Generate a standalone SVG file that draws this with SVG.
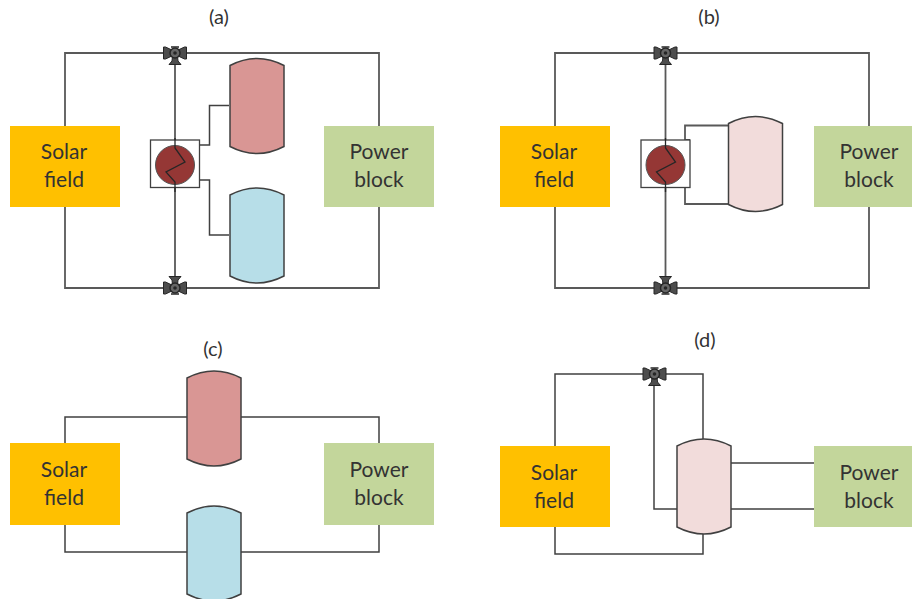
<svg xmlns="http://www.w3.org/2000/svg" width="912" height="599" viewBox="0 0 912 599">
<defs>
<g id="valve">
<path d="M-11.500 -6 L-9.500 -6 L-1 -2 L-1 2 L-9.500 6 L-11.500 6 Z M11.500 -6 L9.500 -6 L1 -2 L1 2 L9.500 6 L11.500 6 Z" fill="#4d4d4d" stroke="#262626" stroke-width="1"/>
<path d="M-2.500 3 L-3 8 L-6 11.500 L6 11.500 L3 8 L2.500 3 Z" fill="#4d4d4d" stroke="#262626" stroke-width="1"/>
<circle cx="0" cy="0" r="5" fill="#666" stroke="#262626" stroke-width="1.500"/>
<circle cx="0" cy="0" r="1.800" fill="#262626"/>
<path d="M-4 -6 H4" stroke="#262626" stroke-width="1.500" fill="none"/>
</g>
<g id="hx">
<rect x="-24.500" y="-25" width="49" height="47.500" fill="#fff" stroke="#404040" stroke-width="1.300"/>
<circle cx="0" cy="0" r="19.500" fill="#953735" stroke="#555" stroke-width="1"/>
<path d="M0 -27 V-17 L10 -3 L-9 7 L0 17 V27" fill="none" stroke="#262626" stroke-width="1.300"/>
</g>
<path id="tank" d="M0 7 Q27 -7 54 7 V88 Q27 102 0 88 Z" stroke="#404040" stroke-width="1.500"/>
</defs>
<style>
.ln{fill:none;stroke:#404040;stroke-width:1.500}
.main{fill:none;stroke:#595959;stroke-width:1.800}
.lbl{font-family:"Lato","Liberation Sans",sans-serif;font-size:21px;fill:#333;text-anchor:middle}
.cap{font-family:"Lato","Liberation Sans",sans-serif;font-size:20px;fill:#333;text-anchor:middle}
.sf{fill:#FFC000}.pb{fill:#C3D69B}
.red{fill:#D99694}.blue{fill:#B7DEE8}.pink{fill:#F2DCDB}
</style>

<g id="connectors">
<path class="main" d="M65 126 V53 H379 V126 M65 207 V288 H379 V207 M175 53 V288"/>
<path class="ln" d="M199 145 H209.500 V105.500 H229 M199 180 H209.500 V235 H229"/>
<path class="main" d="M555 126 V53 H869 V126 M555 207 V288 H869 V207 M665.500 53 V288"/>
<path class="main" d="M690 140 H685 V125.500 H728 M690 187 H685 V204 H728"/>
<path class="ln" d="M65 443 V417 H187 M241 417 H379 V443 M65 525 V552 H187 M241 552 H379 V525"/>
<path class="ln" d="M555 446 V374 H703 V439 M555 527 V554 H703 V533 M654 383 V509 H677"/>
<path class="ln" d="M731 463 H814 M731 509 H814"/>
</g>

<g id="caption-a"><text class="cap" x="219" y="24">(a)</text></g>
<g id="caption-b"><text class="cap" x="709" y="24">(b)</text></g>
<g id="caption-c"><text class="cap" x="213" y="356">(c)</text></g>
<g id="caption-d"><text class="cap" x="705" y="347">(d)</text></g>

<g id="a-solar"><rect class="sf" x="10" y="126" width="110" height="81"/><text class="lbl" x="64" y="159">Solar</text><text class="lbl" x="64" y="187">field</text></g>
<g id="a-power"><rect class="pb" x="324" y="126" width="110" height="81"/><text class="lbl" x="379" y="159">Power</text><text class="lbl" x="379" y="187">block</text></g>
<g id="a-hx"><use href="#hx" x="175" y="165"/></g>
<g id="a-valve-top"><use href="#valve" x="175" y="53"/></g>
<g id="a-valve-bottom"><use href="#valve" transform="translate(175 288) scale(1 -1)"/></g>
<g id="a-hot"><use href="#tank" class="red" x="230" y="58.500"/></g>
<g id="a-cold"><use href="#tank" class="blue" x="230" y="188"/></g>

<g id="b-solar"><rect class="sf" x="500" y="126" width="110" height="81"/><text class="lbl" x="554" y="159">Solar</text><text class="lbl" x="554" y="187">field</text></g>
<g id="b-power"><rect class="pb" x="814" y="126" width="98" height="81"/><text class="lbl" x="869" y="159">Power</text><text class="lbl" x="869" y="187">block</text></g>
<g id="b-hx"><use href="#hx" x="665.500" y="165"/></g>
<g id="b-valve-top"><use href="#valve" x="665.500" y="53"/></g>
<g id="b-valve-bottom"><use href="#valve" transform="translate(665.500 288) scale(1 -1)"/></g>
<g id="b-tank"><use href="#tank" class="pink" x="728.500" y="116.500"/></g>

<g id="c-solar"><rect class="sf" x="10" y="443" width="110" height="82"/><text class="lbl" x="64" y="477">Solar</text><text class="lbl" x="64" y="505">field</text></g>
<g id="c-power"><rect class="pb" x="324" y="443" width="110" height="82"/><text class="lbl" x="379" y="477">Power</text><text class="lbl" x="379" y="505">block</text></g>
<g id="c-hot"><use href="#tank" class="red" x="187" y="371"/></g>
<g id="c-cold"><use href="#tank" class="blue" x="187" y="506"/></g>

<g id="d-solar"><rect class="sf" x="500" y="446" width="110" height="81"/><text class="lbl" x="554" y="480">Solar</text><text class="lbl" x="554" y="508">field</text></g>
<g id="d-power"><rect class="pb" x="814" y="446" width="98" height="81"/><text class="lbl" x="869" y="480">Power</text><text class="lbl" x="869" y="508">block</text></g>
<g id="d-valve"><use href="#valve" x="654.500" y="374"/></g>
<g id="d-tank"><use href="#tank" class="pink" x="677" y="439"/></g>
</svg>
